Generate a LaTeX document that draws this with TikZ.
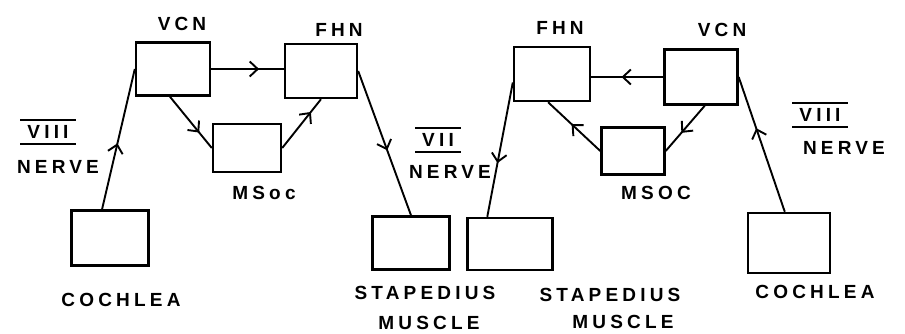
\documentclass[tikz,border=0pt]{standalone}
\usepackage{fontspec}
\newfontfamily\handfont[LetterSpace=22]{Liberation Sans}
\usetikzlibrary{arrows.meta,decorations.markings,calc}
\begin{document}
\begin{tikzpicture}[x=1pt,y=-1pt,
  box/.style={draw, line width=2.4pt, inner sep=0pt},
  lbl/.style={font=\handfont\bfseries\fontsize{19}{21}\selectfont, inner sep=0pt},
  numeral/.style={lbl, inner xsep=7pt, inner ysep=5pt},
  bar/.style={line width=2pt},
  conn/.style={line width=1.9pt},
  midarrow/.style={postaction={decorate}, decoration={markings,
     mark=at position #1 with {\arrow{Straight Barb[length=8pt,width=15pt,line width=1.9pt]}}}}]
\useasboundingbox (0,0) rectangle (905,334);

% ---------- left diagram ----------
\node[box, minimum width=74pt, minimum height=53pt] (vcnL)  at (173,69)  {};
\node[box, minimum width=72pt, minimum height=54pt] (fhnL)  at (321,71)  {};
\node[box, minimum width=68pt, minimum height=48pt] (msocL) at (247,148) {};
\node[box, minimum width=77pt, minimum height=55pt] (cochL) at (110,238) {};
\node[box, minimum width=77pt, minimum height=53pt] (stapL) at (411,243) {};

\node[lbl] (tvcnL)  at (182,24)  {VCN};
\node[lbl] (tfhnL)  at (339,30)  {FHN};
\node[lbl] (tmsocL) at (264,193) {MSoc};
\node[lbl] (tcochL) at (121,300) {COCHLEA};
\node[lbl] (tstapL) at (425,293) {STAPEDIUS};
\node[lbl] (tmusL)  at (429,323) {MUSCLE};

\node[numeral] (n8L) at (48,132) {VIII};
\draw[bar] (n8L.north west) -- (n8L.north east);
\draw[bar] (n8L.south west) -- (n8L.south east);
\node[lbl] (nerve8L) at (58,167) {NERVE};

\node[numeral] (n7L) at (438,140) {VII};
\draw[bar] (n7L.north west) -- (n7L.north east);
\draw[bar] (n7L.south west) -- (n7L.south east);
\node[lbl] (nerve7L) at (450,172) {NERVE};

\draw[conn, midarrow=0.47] ($(cochL.north west)!0.4!(cochL.north east)$) -- (vcnL.west);
\draw[conn, midarrow=0.66] (vcnL.east) -- (vcnL.east -| fhnL.west);
\draw[conn, midarrow=0.70] ($(vcnL.south west)!0.46!(vcnL.south east)$) -- (msocL.west);
\draw[conn, midarrow=0.74] (msocL.east) -- (fhnL.south);
\draw[conn, midarrow=0.55] (fhnL.east) -- (stapL.north);

% ---------- right diagram ----------
\node[box, minimum width=76pt, minimum height=54pt] (fhnR)  at (552,74)  {};
\node[box, minimum width=73pt, minimum height=55pt] (vcnR)  at (701,77)  {};
\node[box, minimum width=63pt, minimum height=47pt] (msocR) at (633,151) {};
\node[box, minimum width=85pt, minimum height=52pt] (stapR) at (510,244) {};
\node[box, minimum width=82pt, minimum height=60pt] (cochR) at (789,243) {};

\node[lbl] (tfhnR)  at (560,28)  {FHN};
\node[lbl] (tvcnR)  at (722,30)  {VCN};
\node[lbl] (tmsocR) at (656,193) {MSOC};
\node[lbl] (tstapR) at (610,295) {STAPEDIUS};
\node[lbl] (tmusR)  at (623,322) {MUSCLE};
\node[lbl] (tcochR) at (815,292) {COCHLEA};

\node[numeral] (n8R) at (820,115) {VIII};
\draw[bar] (n8R.north west) -- (n8R.north east);
\draw[bar] (n8R.south west) -- (n8R.south east);
\node[lbl] (nerve8R) at (844,148) {NERVE};

\draw[conn, midarrow=0.58] (vcnR.west) -- (vcnR.west -| fhnR.east);
\draw[conn, midarrow=0.60] ($(vcnR.south west)!0.55!(vcnR.south east)$) -- (msocR.east);
\draw[conn, midarrow=0.55] (msocR.west) -- ($(fhnR.south west)!0.45!(fhnR.south east)$);
\draw[conn, midarrow=0.60] ($(fhnR.north west)!0.65!(fhnR.south west)$) -- ($(stapR.north west)!0.24!(stapR.north east)$);
\draw[conn, midarrow=0.62] ($(cochR.north west)!0.45!(cochR.north east)$) -- (vcnR.east);
\end{tikzpicture}
\end{document}
